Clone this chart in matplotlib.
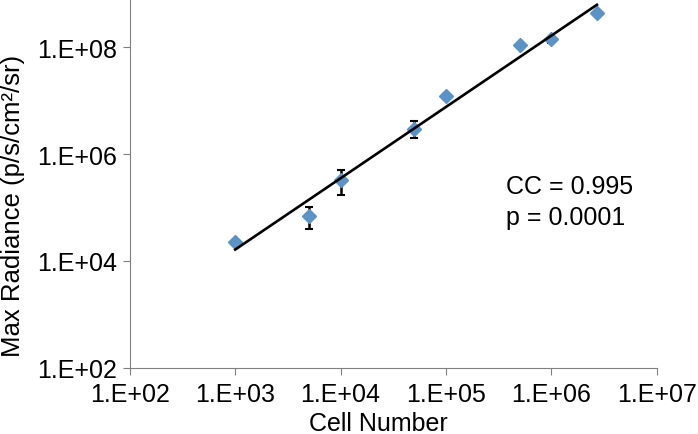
import matplotlib.pyplot as plt
import numpy as np

plt.rcParams['font.family'] = ['Liberation Sans', 'DejaVu Sans']

# valores
cells = [1e3, 5e3, 1e4, 5e4, 1e5, 5e5, 1e6, 2.7e6]
radiance = [2.3e4, 7e4, 3.2e5, 3.0e6, 1.2e7, 1.1e8, 1.4e8, 4.3e8]
err_low = [0.2e4, 3e4, 1.5e5, 1.0e6, 0, 0, 0.2e8, 0]
err_high = [0.2e4, 3e4, 1.8e5, 1.2e6, 0, 0, 0.1e8, 0]

xticks = [1e2, 1e3, 1e4, 1e5, 1e6, 1e7]
yticks = [1e2, 1e4, 1e6, 1e8]

def sci(v):
    return '1.E+%02d' % round(np.log10(v))

fig = plt.figure(figsize=(6.98, 4.35), dpi=100)
ax = fig.add_axes([0.186, 0.152, 0.755, 0.848])

ax.errorbar(cells, radiance, yerr=[err_low, err_high], fmt='none',
            ecolor='black', elinewidth=1.8, capsize=3, capthick=1.5, zorder=2)
ax.plot(cells, radiance, 'D', color='#5b93c7', markersize=7.5, zorder=3)

# ajuste linear em escala log-log
lx = np.log10(cells)
ly = np.log10(radiance)
a, b = np.polyfit(lx, ly, 1)
xx = np.array([lx[0], lx[-1]])
ax.plot(10 ** xx, 10 ** (a * xx + b), 'k-', linewidth=1.9, zorder=4)

ax.set_xscale('log')
ax.set_yscale('log')
ax.set_xlim(1e2, 1e7)
ax.set_ylim(1e2, 10 ** 8.9)
ax.set_xticks(xticks)
ax.set_xticklabels([sci(v) for v in xticks])
ax.set_yticks(yticks)
ax.set_yticklabels([sci(v) for v in yticks])
ax.minorticks_off()

for s in ['top', 'right']:
    ax.spines[s].set_visible(False)
for s in ['left', 'bottom']:
    ax.spines[s].set_color('#808080')
ax.tick_params(direction='out', length=5, color='#808080', labelsize=18)
ax.tick_params(axis='x', pad=5)
ax.tick_params(axis='y', pad=4)

ax.set_xlabel('Cell Number', fontsize=18, va='baseline')
ax.xaxis.set_label_coords(0.472, -0.168)
ax.set_ylabel('Max Radiance (p/s/cm²/sr)', fontsize=18.5, va='baseline')
ax.yaxis.set_label_coords(-0.209, 0.442)

ax.text(0.713, 0.474, 'CC = 0.995', fontsize=18, transform=ax.transAxes,
        ha='left', va='baseline')
ax.text(0.713, 0.390, 'p = 0.0001', fontsize=18, transform=ax.transAxes,
        ha='left', va='baseline')

fig.savefig('out.png', dpi=100)
